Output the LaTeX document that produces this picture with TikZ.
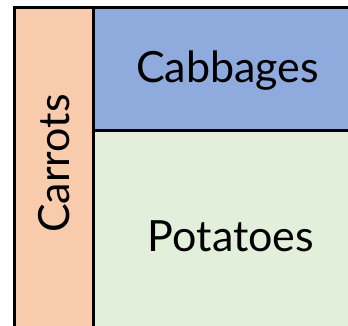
\documentclass[tikz,border=0pt]{standalone}
\usepackage{fontspec}
\setmainfont{Lato}
\definecolor{carrot}{HTML}{F8CBAD}
\definecolor{cabbage}{HTML}{8FAADC}
\definecolor{potato}{HTML}{E2EFDA}
\tikzset{veg/.style={font=\fontsize{43}{50}\selectfont}}
\begin{document}
\begin{tikzpicture}[x=1pt,y=-1pt]
	\useasboundingbox (0,0) rectangle (348,325);
	\filldraw[fill=carrot,line width=3pt] (14.5,7.5) rectangle (93.5,340);
	\filldraw[fill=cabbage,line width=3pt] (93.5,7.5) rectangle (362,130);
	\filldraw[fill=potato,line width=3pt] (93.5,130) rectangle (362,340);
	\node[veg] (cabbages) at (227.5,71) {Cabbages};
	\node[veg] (potatoes) at (231,236) {Potatoes};
	\node[veg,rotate=90] (carrots) at (54,163.5) {Carrots};
\end{tikzpicture}
\end{document}
